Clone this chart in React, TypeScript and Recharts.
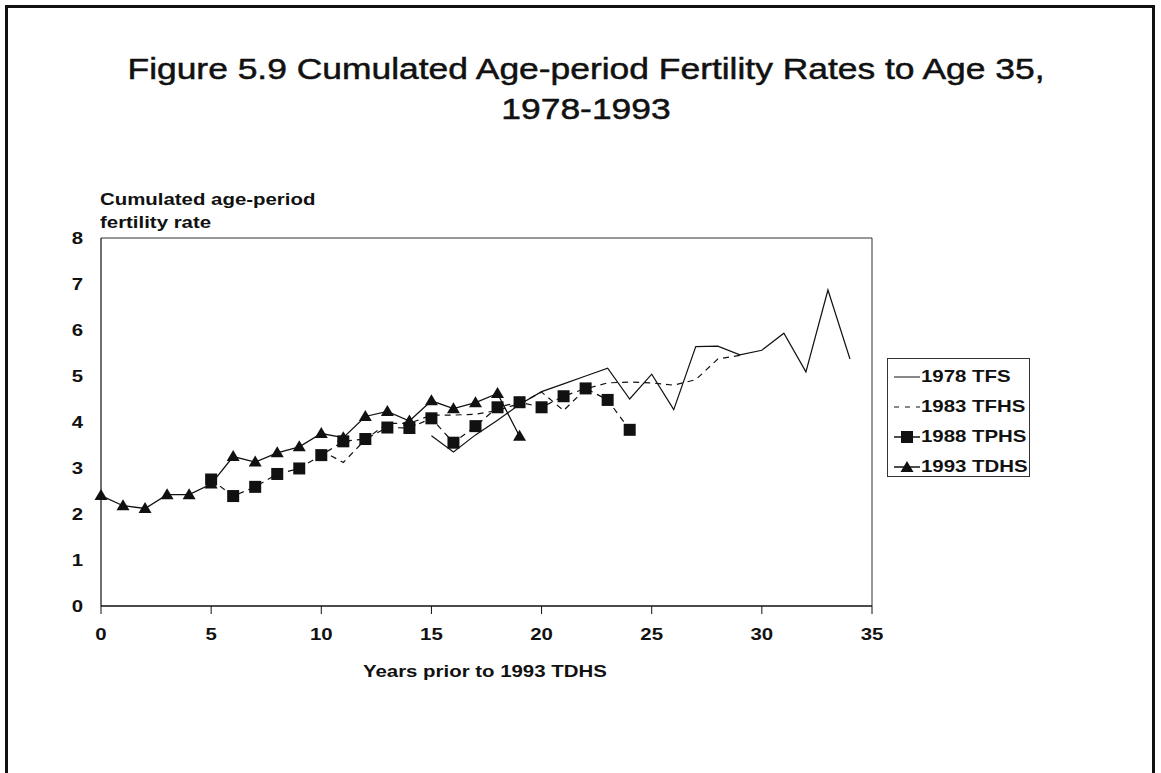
import { LineChart, Line, XAxis, YAxis, ReferenceLine } from "recharts";

const FONT = '"Liberation Sans", Arial, Helvetica, sans-serif';
const INK = "#111";
const STRETCH = 1.2;

const YEARS = [
  0, 1, 2, 3, 4, 5, 6, 7, 8, 9, 10, 11, 12, 13, 14, 15, 16, 17, 18, 19, 20, 21,
  22, 23, 24, 25, 26, 27, 28, 29, 30, 31, 32, 33, 34,
];
const X_TICKS = [0, 5, 10, 15, 20, 25, 30, 35];
const Y_TICKS = [0, 1, 2, 3, 4, 5, 6, 7, 8];

const none = (n: number) => Array(n).fill(null);

const TFS_1978 = [
  ...none(15),
  3.7, 3.35, 3.72, 4.04, 4.38, 4.66, 4.83, 5.0, 5.17, 4.5, 5.04, 4.27, 5.64,
  5.65, 5.46, 5.56, 5.93, 5.09, 6.87, 5.37,
];
const TFHS_1983 = [
  ...none(10),
  3.38, 3.12, 3.62, 3.97, 3.97, 4.15, 4.15, 4.17, 4.25, 4.4, 4.65, 4.25, 4.72,
  4.85, 4.87, 4.85, 4.8, 4.92, 5.37, 5.45,
  ...none(5),
];
const TPHS_1988 = [
  ...none(5),
  2.75, 2.39, 2.59, 2.87, 2.99, 3.28, 3.58, 3.63, 3.88, 3.87, 4.08, 3.55, 3.91,
  4.32, 4.43, 4.32, 4.56, 4.73, 4.48, 3.83,
  ...none(10),
];
const TDHS_1993 = [
  2.4, 2.18, 2.12, 2.42, 2.42, 2.65, 3.25, 3.13, 3.33, 3.46, 3.75, 3.66, 4.12,
  4.23, 4.02, 4.46, 4.29, 4.42, 4.62, 3.69,
  ...none(15),
];

const LEGEND = [
  { label: "1978 TFS", kind: "solid" },
  { label: "1983 TFHS", kind: "dash" },
  { label: "1988 TPHS", kind: "square" },
  { label: "1993 TDHS", kind: "triangle" },
];

const rows = YEARS.map((year, i) => ({
  year,
  tfs: TFS_1978[i],
  tfhs: TFHS_1983[i],
  tphs: TPHS_1988[i],
  tdhs: TDHS_1993[i],
}));

const SquareDot = (props: any) => {
  const { cx, cy, index } = props;
  if (cx == null || cy == null) return <g key={index} />;
  return <rect key={index} x={cx - 6} y={cy - 6} width={12} height={12} fill={INK} />;
};

const TriangleDot = (props: any) => {
  const { cx, cy, index } = props;
  if (cx == null || cy == null) return <g key={index} />;
  return (
    <polygon
      key={index}
      points={`${cx},${cy - 6.5} ${cx - 6.5},${cy + 4.5} ${cx + 6.5},${cy + 4.5}`}
      fill={INK}
    />
  );
};

const XTick = ({ x, y, payload }: any) => (
  <g transform={`translate(${x},${y})`}>
    <text
      transform={`scale(${STRETCH},1)`}
      textAnchor="middle"
      dy="0.71em"
      fontFamily={FONT}
      fontWeight="bold"
      fontSize={17}
      fill={INK}
    >
      {payload.value}
    </text>
  </g>
);

const YTick = ({ x, y, payload }: any) => (
  <g transform={`translate(${x},${y})`}>
    <text
      transform={`scale(${STRETCH},1)`}
      textAnchor="end"
      dy="0.36em"
      fontFamily={FONT}
      fontWeight="bold"
      fontSize={17}
      fill={INK}
    >
      {payload.value}
    </text>
  </g>
);

const stretched = (origin: string) => ({
  transform: `scaleX(${STRETCH})`,
  transformOrigin: origin,
  whiteSpace: "nowrap" as const,
});

const LegendSymbol = ({ kind }: { kind: string }) => (
  <svg width={28} height={14} style={{ display: "block" }}>
    {kind === "dash" ? (
      <line x1={1} y1={7} x2={27} y2={7} stroke={INK} strokeWidth={1} strokeDasharray="5 6" />
    ) : (
      <line x1={1} y1={7} x2={27} y2={7} stroke={INK} strokeWidth={kind === "solid" ? 1 : 1.5} />
    )}
    {kind === "square" && <rect x={8} y={1} width={12} height={12} fill={INK} />}
    {kind === "triangle" && <polygon points="14,1 7.5,12 20.5,12" fill={INK} />}
  </svg>
);

export default function App() {
  return (
    <div
      style={{
        position: "absolute",
        left: 0,
        top: 0,
        width: 1161,
        height: 773,
        overflow: "hidden",
        background: "#fff",
        fontFamily: FONT,
        color: INK,
      }}
    >
      <div
        style={{
          position: "absolute",
          left: 5,
          top: 5,
          width: 1144,
          height: 780,
          borderTop: `3px solid ${INK}`,
          borderLeft: `3px solid ${INK}`,
          borderRight: `3px solid ${INK}`,
        }}
      />

      <div
        style={{
          position: "absolute",
          left: 86,
          top: 49,
          width: 1000,
          fontSize: 29.5,
          lineHeight: "40px",
          textAlign: "center",
          WebkitTextStroke: "0.5px #111",
          ...stretched("center"),
        }}
      >
        <div>Figure 5.9 Cumulated Age-period Fertility Rates to Age 35,</div>
        <div>1978-1993</div>
      </div>

      <div
        style={{
          position: "absolute",
          left: 100,
          top: 188,
          fontSize: 17,
          fontWeight: "bold",
          lineHeight: "23px",
          ...stretched("left"),
        }}
      >
        <div>Cumulated age-period</div>
        <div>fertility rate</div>
      </div>

      <div
        style={{
          position: "absolute",
          left: 363,
          top: 663,
          fontSize: 17,
          fontWeight: "bold",
          lineHeight: "17px",
          ...stretched("left"),
        }}
      >
        Years prior to 1993 TDHS
      </div>

      <div style={{ position: "absolute", left: 0, top: 0 }}>
        <LineChart
          width={1161}
          height={773}
          data={rows}
          margin={{ top: 238, right: 289, bottom: 107, left: 41 }}
        >
          <XAxis
            dataKey="year"
            type="number"
            domain={[0, 35]}
            ticks={X_TICKS}
            interval={0}
            axisLine={{ stroke: INK, strokeWidth: 1.3 }}
            tickLine={{ stroke: INK }}
            tickSize={8}
            tickMargin={14}
            height={60}
            tick={<XTick />}
          />
          <YAxis
            type="number"
            domain={[0, 8]}
            ticks={Y_TICKS}
            interval={0}
            axisLine={{ stroke: INK, strokeWidth: 1.2 }}
            tickLine={false}
            tickSize={6}
            tickMargin={12}
            width={60}
            tick={<YTick />}
          />
          <ReferenceLine y={8} stroke="#333" strokeWidth={1} />
          <ReferenceLine x={35} stroke="#333" strokeWidth={1} />
          <Line
            dataKey="tfs"
            stroke={INK}
            strokeWidth={1.2}
            dot={false}
            activeDot={false}
            isAnimationActive={false}
          />
          <Line
            dataKey="tfhs"
            stroke={INK}
            strokeWidth={1.2}
            strokeDasharray="6 5"
            dot={false}
            activeDot={false}
            isAnimationActive={false}
          />
          <Line
            dataKey="tphs"
            stroke={INK}
            strokeWidth={1.2}
            strokeDasharray="6 5"
            dot={SquareDot}
            activeDot={false}
            isAnimationActive={false}
          />
          <Line
            dataKey="tdhs"
            stroke={INK}
            strokeWidth={1.3}
            dot={TriangleDot}
            activeDot={false}
            isAnimationActive={false}
          />
        </LineChart>
      </div>

      <div
        style={{
          position: "absolute",
          left: 887,
          top: 358,
          width: 143,
          height: 119,
          border: "1px solid #333",
          boxSizing: "border-box",
        }}
      >
        {LEGEND.map((item, i) => (
          <div
            key={item.label}
            style={{
              position: "absolute",
              left: 5,
              top: 9 + i * 30,
              height: 17,
              display: "flex",
              alignItems: "center",
            }}
          >
            <LegendSymbol kind={item.kind} />
            <span
              style={{
                fontSize: 17,
                fontWeight: "bold",
                lineHeight: "17px",
                marginLeft: 0,
                ...stretched("left"),
              }}
            >
              {item.label}
            </span>
          </div>
        ))}
      </div>
    </div>
  );
}
